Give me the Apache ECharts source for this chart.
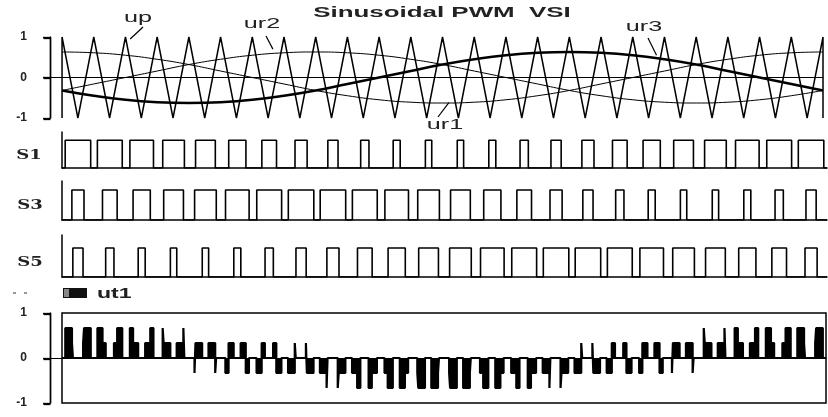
<!DOCTYPE html>
<html>
<head>
<meta charset="utf-8">
<script src="https://cdn.jsdelivr.net/npm/echarts@6/dist/echarts.min.js"></script>
<style>
  html, body { margin: 0; padding: 0; background: #fff; }
  #chart { width: 828px; height: 417px; }
</style>
</head>
<body>
<div id="chart"></div>
<script>
// Time is measured in carrier periods: 24 periods across the trace.

// Triangular carrier "up": vertices (starts and ends with a jump at the edges)
const carrierTime = [0, 0, 0.5, 1, 1.5, 2, 2.5, 3, 3.5, 4, 4.5, 5, 5.5, 6, 6.5, 7, 7.5, 8, 8.5, 9, 9.5,
  10, 10.5, 11, 11.5, 12, 12.5, 13, 13.5, 14, 14.5, 15, 15.5, 16, 16.5, 17, 17.5, 18, 18.5, 19, 19.5,
  20, 20.5, 21, 21.5, 22, 22.5, 23, 23.5, 24, 24];
const carrierValue = [-1, 1, -1, 1, -1, 1, -1, 1, -1, 1, -1, 1, -1, 1, -1, 1, -1, 1, -1, 1, -1,
  1, -1, 1, -1, 1, -1, 1, -1, 1, -1, 1, -1, 1, -1, 1, -1, 1, -1, 1, -1,
  1, -1, 1, -1, 1, -1, 1, -1, 1, -1];

// Sinusoidal references sampled once per carrier period
const refTime = [0, 1, 2, 3, 4, 5, 6, 7, 8, 9, 10, 11, 12, 13, 14, 15, 16, 17, 18, 19, 20, 21, 22, 23, 24];
const ur1 = [0.63, 0.61, 0.55, 0.45, 0.32, 0.16, 0, -0.16, -0.32, -0.45, -0.55, -0.61, -0.63,
  -0.61, -0.55, -0.45, -0.32, -0.16, 0, 0.16, 0.32, 0.45, 0.55, 0.61, 0.63];
const ur2 = [-0.32, -0.16, 0, 0.16, 0.32, 0.45, 0.55, 0.61, 0.63, 0.61, 0.55, 0.45, 0.32,
  0.16, 0, -0.16, -0.32, -0.45, -0.55, -0.61, -0.63, -0.61, -0.55, -0.45, -0.32];
const ur3 = [-0.32, -0.45, -0.55, -0.61, -0.63, -0.61, -0.55, -0.45, -0.32, -0.16, 0, 0.16, 0.32,
  0.45, 0.55, 0.61, 0.63, 0.61, 0.55, 0.45, 0.32, 0.16, 0, -0.16, -0.32];

// Gate signals: on-time fraction in each carrier period (pulse centred on the carrier valley)
const dutyS1 = [0.80, 0.78, 0.74, 0.68, 0.62, 0.54, 0.46, 0.38, 0.32, 0.26, 0.22, 0.20,
  0.20, 0.22, 0.26, 0.32, 0.38, 0.46, 0.54, 0.62, 0.68, 0.74, 0.78, 0.80];
const dutyS3 = [0.38, 0.46, 0.54, 0.62, 0.68, 0.74, 0.78, 0.80, 0.80, 0.78, 0.74, 0.68,
  0.62, 0.54, 0.46, 0.38, 0.32, 0.26, 0.22, 0.20, 0.20, 0.22, 0.26, 0.32];
const dutyS5 = [0.32, 0.26, 0.22, 0.20, 0.20, 0.22, 0.26, 0.32, 0.38, 0.46, 0.54, 0.62,
  0.68, 0.74, 0.78, 0.80, 0.80, 0.78, 0.74, 0.68, 0.62, 0.54, 0.46, 0.38];

const yTicks = [-1, 0, 1];

const zip = (xs, ys) => xs.map((x, i) => [x, ys[i]]);

function pulseTrain(duty) {
  const pts = [];
  duty.forEach((d, k) => {
    const a = k + 0.5 - d / 2, b = k + 0.5 + d / 2;
    pts.push([k, 0], [a, 0], [a, 1], [b, 1], [b, 0]);
  });
  pts.push([duty.length, 0]);
  return pts;
}
function isOn(duty, t) {
  const k = Math.min(Math.floor(t), duty.length - 1);
  return Math.abs(t - k - 0.5) < duty[k] / 2 ? 1 : 0;
}
// Phase voltage of leg 1 (load neutral reference) from the three gate states
function phaseVoltage() {
  const edges = new Set([0, dutyS1.length]);
  [dutyS1, dutyS3, dutyS5].forEach(duty => duty.forEach((d, k) => {
    edges.add(k + 0.5 - d / 2); edges.add(k + 0.5 + d / 2);
  }));
  const ts = [...edges].sort((a, b) => a - b);
  const pts = [];
  for (let i = 0; i < ts.length - 1; i++) {
    const m = (ts[i] + ts[i + 1]) / 2;
    const v = (2 * isOn(dutyS1, m) - isOn(dutyS3, m) - isOn(dutyS5, m)) / 3;
    pts.push([ts[i], v], [ts[i + 1], v]);
  }
  return pts;
}

const INK = '#000';
const TXT = '#222';
// the scaled panels leave a short gap between the scale bracket and the start of the trace
const LEAD = -0.38;
const TICK_LEN = 7;

// panel layout (pixels)
const topPanel = { left: 50, right: 5, top: 37, height: 81 };
const outPanel = { left: 50, right: 2, top: 313, height: 90 };

function timeAxis(gi, lw, min) {
  return {
    type: 'value', gridIndex: gi, min: min, max: 24,
    axisLabel: { show: false }, axisTick: { show: false }, splitLine: { show: false },
    axisLine: { show: true, onZero: true, lineStyle: { color: INK, width: lw } }
  };
}
function levelAxis(gi) {
  return {
    type: 'value', gridIndex: gi, min: yTicks[0], max: yTicks[yTicks.length - 1], interval: 1,
    axisLine: { show: true, onZero: false, lineStyle: { color: INK, width: 1.4 } },
    axisTick: { show: true, length: TICK_LEN, lineStyle: { color: INK, width: 1.3 } },
    axisLabel: { margin: 23, color: TXT, fontSize: 12, fontWeight: 'bold', fontFamily: 'Liberation Sans' },
    splitLine: { show: false }
  };
}
function hiddenAxis(gi, min, max) {
  return { type: 'value', gridIndex: gi, min: min, max: max, show: false };
}
function gateAxis(gi, max) {
  return {
    type: 'value', gridIndex: gi, min: 0, max: max,
    axisLine: { show: true, onZero: false, lineStyle: { color: INK, width: 1.5 } },
    axisTick: { show: false }, axisLabel: { show: false }, splitLine: { show: false }
  };
}
function lineSeries(name, gi, data, width, extra) {
  return Object.assign({
    name: name, type: 'line', xAxisIndex: gi, yAxisIndex: gi, data: data,
    symbol: 'none', animation: false, silent: true,
    lineStyle: { color: INK, width: width }
  }, extra || {});
}

function textEl(text, x, y, font, sx, align) {
  return {
    type: 'text', x: x, y: y, scaleX: sx, silent: true,
    style: { text: text, x: 0, y: 0, font: font, fill: TXT,
      textAlign: align || 'center', textVerticalAlign: 'middle' }
  };
}
function segment(x1, y1, x2, y2, w, top) {
  const el = { type: 'line', silent: true, shape: { x1: x1, y1: y1, x2: x2, y2: y2 },
    style: { stroke: INK, lineWidth: w } };
  if (top) { el.z = 100; el.zlevel = 1; }
  return el;
}

const chart = echarts.init(document.getElementById('chart'), null, { renderer: 'canvas' });

const option = {
  backgroundColor: '#fff',
  animation: false,
  grid: [
    Object.assign({ outerBoundsMode: 'none' }, topPanel),
    { left: 62, right: 1, top: 132, height: 36, outerBoundsMode: 'none' },
    { left: 62, right: 1, top: 181, height: 39, outerBoundsMode: 'none' },
    { left: 62, right: 1, top: 235, height: 42, outerBoundsMode: 'none' },
    // frame around the output trace
    { left: 62, right: 2, top: 313, height: 90, outerBoundsMode: 'none',
      show: true, borderColor: INK, borderWidth: 1.5, backgroundColor: 'transparent' },
    // output trace with its scale
    Object.assign({ outerBoundsMode: 'none' }, outPanel)
  ],
  xAxis: [timeAxis(0, 1, LEAD), timeAxis(1, 1.5, 0), timeAxis(2, 1.5, 0), timeAxis(3, 1.5, 0),
    hiddenAxis(4, 0, 24), timeAxis(5, 1, LEAD)],
  yAxis: [levelAxis(0), gateAxis(1, 1.3), gateAxis(2, 1.3), gateAxis(3, 1.45),
    hiddenAxis(4, -1, 1), levelAxis(5)],
  series: [
    lineSeries('up', 0, zip(carrierTime, carrierValue), 1.5),
    lineSeries('ur1', 0, zip(refTime, ur1), 1, { smooth: true }),
    lineSeries('ur2', 0, zip(refTime, ur2), 1, { smooth: true }),
    lineSeries('ur3', 0, zip(refTime, ur3), 2.6, { smooth: true }),
    lineSeries('S1', 1, pulseTrain(dutyS1), 1.6),
    lineSeries('S3', 2, pulseTrain(dutyS3), 1.6),
    lineSeries('S5', 3, pulseTrain(dutyS5), 1.6),
    lineSeries('ut1', 5, phaseVoltage(), 2.2, {
      areaStyle: { color: INK, opacity: 1, origin: 'auto' }
    })
  ]
};
chart.setOption(option);

// Curve labels with leader lines pointing at the traces
const notes = [
  { text: 'up',  label: [138, 18],  from: [143, 27],  tip: [2.15, 0.95] },
  { text: 'ur2', label: [262, 24],  from: [266, 36],  tip: [6.65, 0.7] },
  { text: 'ur3', label: [644, 27],  from: [648, 38],  tip: [18.75, 0.55] },
  { text: 'ur1', label: [445, 125], from: [438, 117], tip: [12.2, -0.62] }
];
const labelFont = '14px "Liberation Sans"';
const graphics = [
  textEl('Sinusoidal PWM  VSI', 442, 13, 'bold 14px "Liberation Sans"', 1.85),
  textEl('S1', 29, 156, 'bold 12px "DejaVu Serif"', 1.5),
  textEl('S3', 30, 206, 'bold 12px "DejaVu Serif"', 1.5),
  textEl('S5', 30, 263, 'bold 12px "DejaVu Serif"', 1.5),
  // legend of the output trace
  { type: 'line', silent: true, shape: { x1: 13, y1: 293, x2: 31, y2: 293 },
    style: { stroke: '#999', lineWidth: 2, lineDash: [3, 8] } },
  { type: 'rect', silent: true, shape: { x: 63, y: 288, width: 24, height: 10 }, style: { fill: '#111' } },
  { type: 'rect', silent: true, shape: { x: 64, y: 289, width: 5, height: 8 }, style: { fill: '#888' } },
  textEl('ut1', 97, 294, 'bold 14px "Liberation Sans"', 1.65, 'left')
];
notes.forEach(n => {
  const p = chart.convertToPixel({ gridIndex: 0 }, n.tip);
  graphics.push(textEl(n.text, n.label[0], n.label[1], labelFont, 1.8));
  graphics.push(segment(n.from[0], n.from[1], p[0], p[1], 1.2));
});

// Scale brackets (spine plus outward ticks) along the left edge of each scaled panel
[topPanel, outPanel].forEach(panel => {
  const x = panel.left + 0.5;
  const yTop = panel.top + 0.5, yBot = panel.top + panel.height + 0.5;
  graphics.push(segment(x, yTop, x, yBot, 1.4, true));
  [yTop, (yTop + yBot) / 2, yBot].forEach(y =>
    graphics.push(segment(x - TICK_LEN, Math.round(y) + 0.5, x, Math.round(y) + 0.5, 1.3, true)));
});
chart.setOption({ graphic: graphics });
</script>
</body>
</html>
